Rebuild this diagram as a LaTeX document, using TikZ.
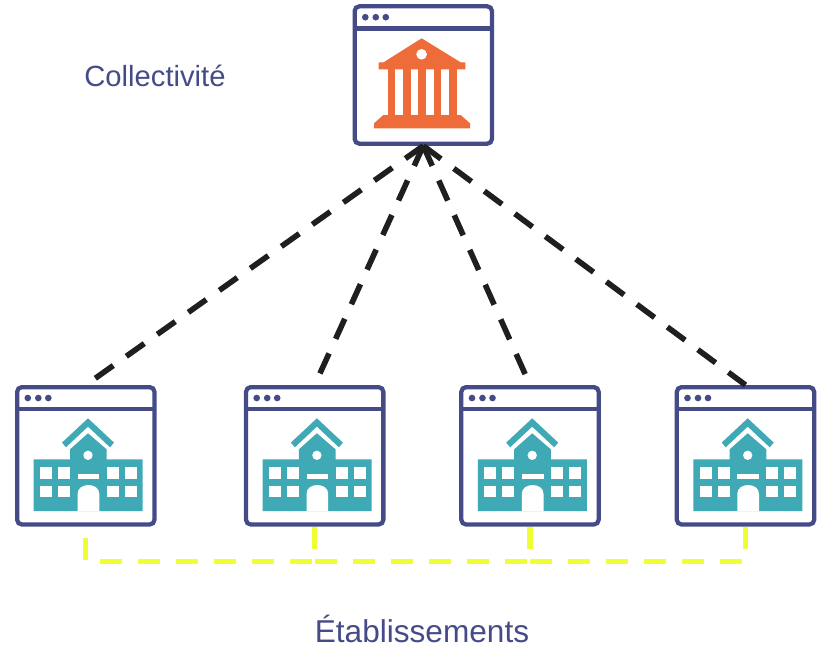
\documentclass[tikz,border=0pt]{standalone}
\usepackage{fontspec}
\setmainfont{Liberation Sans}
\definecolor{winblue}{HTML}{454B87}
\definecolor{bankorange}{HTML}{EE6C3A}
\definecolor{schoolteal}{HTML}{3FA9B5}
\definecolor{linkblack}{HTML}{1F1F1F}
\definecolor{linkyellow}{HTML}{EEFF33}
\tikzset{
  winbox/.style={draw=winblue,fill=white,line width=3.2pt,rounded corners=3.5pt,
    minimum width=103pt,minimum height=103pt,inner sep=0pt},
  upline/.style={draw=linkblack,line width=4.2pt,dash pattern=on 16.5pt off 12pt},
  peerline/.style={draw=linkyellow,line width=4pt,dash pattern=on 16.5pt off 12pt},
  lbl/.style={text=winblue,anchor=base,inner sep=0pt},
  pics/titlebar/.style={code={
    \draw[winblue,line width=3.5pt] (-69,-46.8) -- (69,-46.8);
    \foreach \dotx in {-58,-47.5,-37.5}
      \fill[winblue] (\dotx,-57.8) circle (2.5pt);
  }},
  pics/bankicon/.style={code={
    \fill[bankorange] (-1.7,-36.7) -- (37.3,-12.7) -- (42,-12.7) -- (42,-5.7)
      -- (-44.7,-5.7) -- (-44.7,-12.7) -- (-39.7,-12.7) -- cycle;
    \fill[white] (-1.7,-20.7) circle (4pt);
    \foreach \colx in {-35.7,-20,-5,10.3,25.7}
      \fill[bankorange] (\colx,-6) rectangle ++(7.6,46.5);
    \fill[bankorange] (-40,40) -- (37.3,40) -- (46.7,48.3) -- (46.7,53.3)
      -- (-49.3,53.3) -- (-49.3,48.3) -- cycle;
  }},
  pics/schoolicon/.style={code={
    \fill[schoolteal] (2.2,-37.5) -- (28.2,-13.2) -- (24.2,-8.5) -- (2.2,-29.2)
      -- (-19.8,-8.5) -- (-23.8,-13.2) -- cycle;
    \fill[schoolteal] (2.2,-22.5) -- (20.8,-6.5) -- (20.8,3.5) -- (56.8,3.5)
      -- (56.8,55.2) -- (-52.2,55.2) -- (-52.2,3.5) -- (-15.8,3.5) -- (-15.8,-6.5) -- cycle;
    \fill[white] (2.2,-0.5) circle (3.5pt);
    \foreach \panex in {-45.8,-27.8,20.8,38.8}
      \foreach \paney in {11.5,29.8}
        \fill[white] (\panex,\paney) rectangle ++(12,11.7);
    \fill[white] (-8.2,17.8) rectangle (13.5,23.2);
    \fill[white] (-8.2,55.4) -- (-8.2,38) .. controls (-8.2,26.3) and (13.5,26.3) .. (13.5,38)
      -- (13.5,55.4) -- cycle;
  }}
}
\begin{document}
\begin{tikzpicture}[x=0.75pt,y=-0.75pt]
  \useasboundingbox (0,0) rectangle (819,647);
  \draw
    (423.3,75) node[winbox] (town){}
    (85.8,455.8) node[winbox] (school1){}
    (314.7,455.8) node[winbox] (school2){}
    (530,455.8) node[winbox] (school3){}
    (745.5,455.8) node[winbox] (school4){}
    (85.8,561.3) coordinate (joint1)
    (314.7,561.3) coordinate (joint2)
    (530,561.3) coordinate (joint3)
    (745.5,561.3) coordinate (joint4);
  \path (town) pic {titlebar} pic {bankicon};
  \path (school1) pic {titlebar} pic {schoolicon};
  \path (school2) pic {titlebar} pic {schoolicon};
  \path (school3) pic {titlebar} pic {schoolicon};
  \path (school4) pic {titlebar} pic {schoolicon};
  \node[lbl,font=\fontsize{21.9pt}{24pt}\selectfont] (towntext) at (155,86.5) {Collectivité};
  \node[lbl,font=\fontsize{23.7pt}{26pt}\selectfont] (schooltext) at (422,642.5) {Établissements};
  \begin{scope}[upline]
    \draw (town.south) to (school1.north);
    \draw (town.south) to (school2.north);
    \draw (town.south) to (school3.north);
    \draw (town.south) to (school4.north);
  \end{scope}
  \begin{scope}[peerline]
    \draw[shorten <=8.25pt] (school1.south) to (joint1);
    \draw (school2.south) to (joint2);
    \draw (school3.south) to (joint3);
    \draw (school4.south) to (joint4);
    \draw[shorten <=10.5pt] (joint1) to (joint2);
    \draw (joint2) to (joint3);
    \draw (joint3) to (joint4);
  \end{scope}
\end{tikzpicture}
\end{document}
